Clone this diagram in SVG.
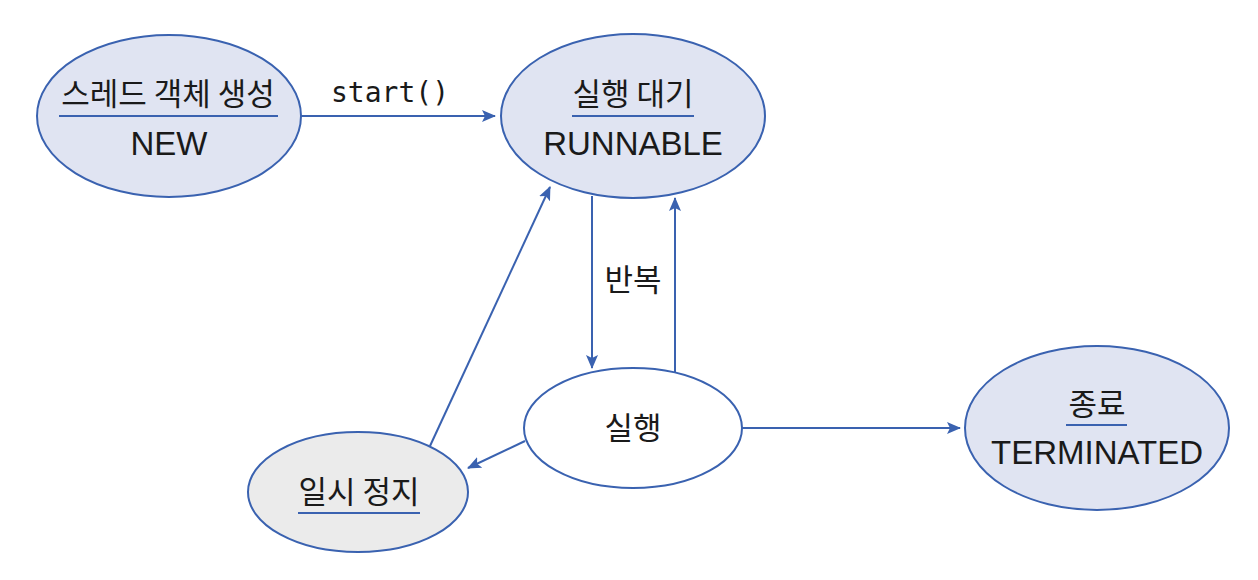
<svg xmlns="http://www.w3.org/2000/svg" width="1258" height="580" viewBox="0 0 1258 580">
<defs>
<style>
.n{fill:#e0e4f2;stroke:#3a62b0;stroke-width:2}
.w{fill:#ffffff;stroke:#3a62b0;stroke-width:2}
.g{fill:#ebebeb;stroke:#3a62b0;stroke-width:2}
.t{font-family:"Liberation Sans","Noto Sans CJK KR",sans-serif;font-size:33px;fill:#1a1a1a;text-anchor:middle}
.k{font-family:"Noto Sans CJK KR",sans-serif;font-size:31px;fill:#1a1a1a;text-anchor:middle}
.m{font-family:"DejaVu Sans Mono","Liberation Mono",monospace;font-size:28px;fill:#1a1a1a;text-anchor:middle}
.u{stroke:#3a62b0;stroke-width:2}
.c{stroke:#3a62b0;stroke-width:2;fill:none;marker-end:url(#ah)}
</style>
<marker id="ah" viewBox="0 0 14 12" refX="13" refY="6" markerWidth="14" markerHeight="12" markerUnits="userSpaceOnUse" orient="auto">
<path d="M0,0 L14,6 L0,12 L3,6 Z" fill="#3a62b0"/>
</marker>
</defs>
<g id="connectors">
<line class="c" x1="301" y1="116" x2="495" y2="116"/>
<line class="c" x1="592" y1="196" x2="592" y2="368"/>
<line class="c" x1="675" y1="372" x2="675" y2="198"/>
<line class="c" x1="525" y1="441" x2="468" y2="468"/>
<line class="c" x1="430" y1="446" x2="550" y2="187"/>
<line class="c" x1="742" y1="428" x2="960" y2="428"/>
<text class="m" x="390" y="102">start()</text>
<text class="k" x="633" y="291">반복</text>
</g>
<g id="new">
<ellipse class="n" cx="169" cy="116" rx="132" ry="81"/>
<text class="k" x="168" y="105">스레드 객체 생성</text>
<line class="u" x1="59" y1="116" x2="278" y2="116"/>
<text class="t" x="169" y="155">NEW</text>
</g>
<g id="runnable">
<ellipse class="n" cx="633" cy="116" rx="132" ry="82"/>
<text class="k" x="633" y="105">실행 대기</text>
<line class="u" x1="572" y1="116" x2="694" y2="116"/>
<text class="t" x="633" y="155">RUNNABLE</text>
</g>
<g id="running">
<ellipse class="w" cx="633" cy="428" rx="109" ry="60"/>
<text class="k" x="633" y="439">실행</text>
</g>
<g id="paused">
<ellipse class="g" cx="358" cy="492" rx="110" ry="60"/>
<text class="k" x="359" y="503">일시 정지</text>
<line class="u" x1="298" y1="513" x2="420" y2="513"/>
</g>
<g id="terminated">
<ellipse class="n" cx="1097" cy="428" rx="132" ry="82"/>
<text class="k" x="1097" y="415">종료</text>
<line class="u" x1="1066" y1="425" x2="1127" y2="425"/>
<text class="t" x="1097" y="464">TERMINATED</text>
</g>
</svg>
